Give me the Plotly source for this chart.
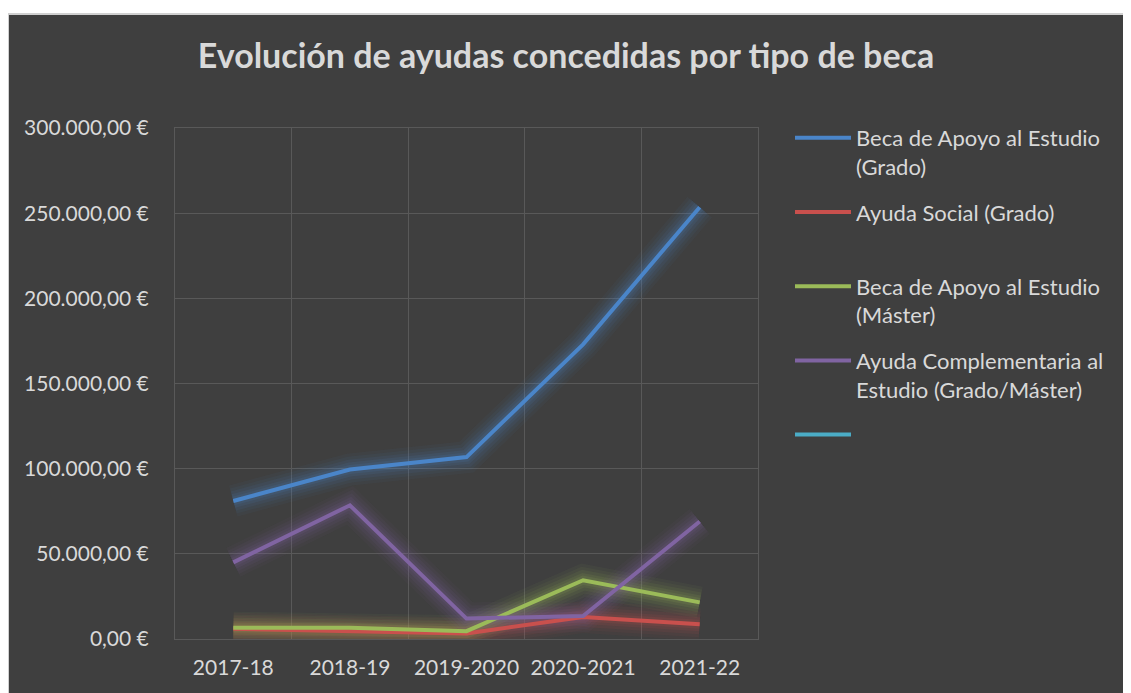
import plotly.graph_objects as go

categories = ["2017-18", "2018-19", "2019-2020", "2020-2021", "2021-22"]
beca_grado = [81000, 99500, 106800, 173000, 253500]
ayuda_social = [6000, 4900, 3300, 12900, 8600]
beca_master = [6600, 6600, 4600, 34500, 21500]
ayuda_compl = [45000, 78500, 12000, 13500, 69000]
serie_vacia = [None, None, None, None, None]

y_tickvals = [0, 50000, 100000, 150000, 200000, 250000, 300000]
y_ticktext = ["0,00 €", "50.000,00 €", "100.000,00 €", "150.000,00 €",
              "200.000,00 €", "250.000,00 €", "300.000,00 €"]

series_names = [
    "Beca de Apoyo al Estudio<br>(Grado)",
    "Ayuda Social (Grado)<br> ",
    "Beca de Apoyo al Estudio<br>(Máster)",
    "Ayuda Complementaria al<br>Estudio (Grado/Máster)",
    "",
]
series_values = [beca_grado, ayuda_social, beca_master, ayuda_compl, serie_vacia]
colors = ["#4a85c9", "#c9504d", "#9bbb59", "#8064a2", "#4bacc6"]
glow_rgb = ["74,133,201", "201,80,77", "155,187,89", "128,100,162", "75,172,198"]

FONT = "Lato"
TXT = "#d9d9d9"
GRID = "#595959"

W, H = 1123, 685  # page has an 8px body margin
OFF = 8

fig = go.Figure()

# soft glow layers
for vals, rgb in zip(series_values, glow_rgb):
    for w, a in [(32, 0.05), (26, 0.06), (20, 0.08), (14, 0.1), (9, 0.12)]:
        fig.add_trace(go.Scatter(
            x=categories, y=vals, mode="lines",
            line=dict(color=f"rgba({rgb},{a})", width=w),
            showlegend=False, hoverinfo="skip"))

for i, (name, vals, col) in enumerate(zip(series_names, series_values, colors)):
    fig.add_trace(go.Scatter(
        x=categories, y=vals, mode="lines", name=name,
        legendgroup=f"g{i}",
        line=dict(color=col, width=4)))

L, T = 175 - OFF, 128 - OFF
R = W - (758 - OFF)
B = H - (639 - OFF)
pw = W - L - R
ph = H - T - B

fig.update_layout(
    width=W, height=H,
    margin=dict(l=L, r=R, t=T, b=B, autoexpand=False),
    paper_bgcolor="white",
    plot_bgcolor="rgba(0,0,0,0)",
    font=dict(family=FONT, color=TXT, size=21),
    title=dict(text="<b>Evolución de ayudas concedidas por tipo de beca</b>",
               x=(566 - OFF) / W, xanchor="center", xref="container",
               y=1 - (56 - OFF) / H, yanchor="middle", yref="container",
               font=dict(family=FONT, size=34, color=TXT)),
    xaxis=dict(showgrid=True, gridcolor=GRID, gridwidth=1, tickson="boundaries",
               showline=True, mirror=True, linecolor=GRID, linewidth=1,
               zeroline=False, ticks="", tickangle=0, automargin=False,
               tickfont=dict(size=21, color=TXT),
               ticklabelstandoff=10,
               range=[-0.5, 4.5]),
    yaxis=dict(range=[0, 300000], tickvals=y_tickvals, ticktext=y_ticktext,
               showgrid=True, gridcolor=GRID, gridwidth=1,
               showline=True, mirror=True, linecolor=GRID, linewidth=1,
               zeroline=False, ticks="", automargin=False,
               tickfont=dict(size=21, color=TXT),
               ticklabelstandoff=21),
    legend=dict(xref="container", yref="container",
                x=(798 - OFF - 8) / W, y=1 - (117 - OFF) / H,
                xanchor="left", yanchor="top",
                font=dict(family=FONT, size=22, color=TXT),
                bgcolor="rgba(0,0,0,0)", valign="top",
                itemwidth=56, tracegroupgap=14),
    shapes=[
        dict(type="rect", xref="paper", yref="paper", layer="below",
             x0=(0 - L) / pw, x1=(1200 - L) / pw,
             y0=(H - B - 720) / ph, y1=(H - B - (14 - OFF)) / ph,
             fillcolor="#3f3f3f", line=dict(color="#d0d0d0", width=2)),
    ],
)

fig.write_html("out.html")
